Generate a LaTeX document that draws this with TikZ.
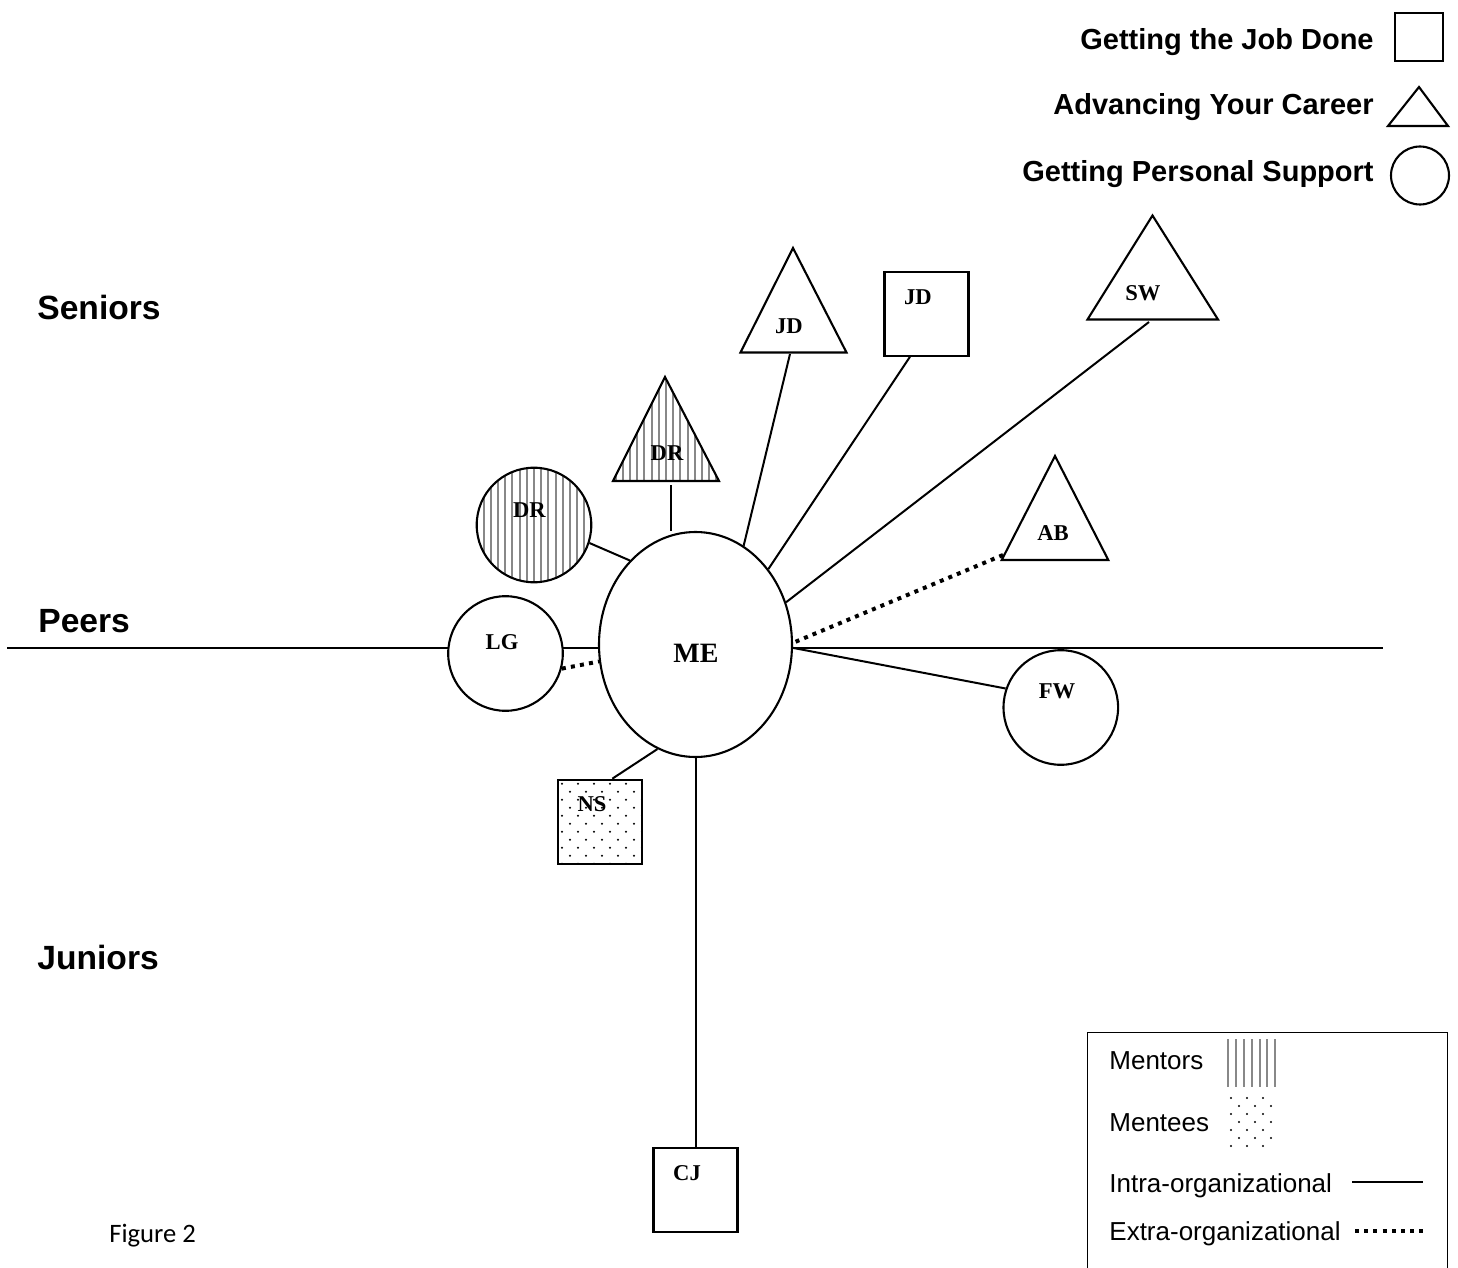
\documentclass[tikz,border=0pt]{standalone}
\usepackage{fontspec}
\setmainfont{Liberation Serif}
\setsansfont{Liberation Sans}
\newfontfamily\figfont{Carlito}
\usetikzlibrary{shapes.geometric}
\definecolor{hatchgray}{HTML}{888888}

\begin{document}
\begin{tikzpicture}[x=0.5pt,y=-0.5pt,
  shp/.style={draw=black,line width=1.05pt,fill=white,inner sep=0pt},
  pcirc/.style={shp,circle,minimum size=57.3pt},
  jbox/.style={shp,rectangle,minimum size=42pt},
  tag/.style={font=\fontsize{11.3}{13}\selectfont\bfseries,inner sep=0pt},
  tie/.style={line width=1pt},
  extra/.style={line width=2pt,dash pattern=on 2pt off 2.6pt},
  hatch/.style={draw=hatchgray,line width=1pt},
  mentor/.style={path picture={
    \foreach \k in {-10,...,10}
      \draw[hatch] ([xshift=\k*3.6pt]path picture bounding box.south)
        -- ([xshift=\k*3.6pt]path picture bounding box.north);}},
  mentee/.style={path picture={
    \foreach \r in {0,...,11}
      \foreach \c in {0,...,6}
        \fill[black] ([xshift={(\c*8+mod(\r,2)*4+2)*1pt},yshift={-(\r*4+2)*1pt}]path picture bounding box.north west)
          circle (0.55pt);}},
  head/.style={font=\sffamily\bfseries\fontsize{16.8}{20}\selectfont,anchor=base west,inner sep=0pt},
  key/.style={font=\sffamily\bfseries\fontsize{14.5}{17}\selectfont,anchor=base east,inner sep=0pt},
  note/.style={font=\sffamily\fontsize{13}{15}\selectfont,anchor=base west,inner sep=0pt}]

  \useasboundingbox (0,0) rectangle (1458,1268);

  % key of the three roles
  \node[key] (kjob) at (1374,50) {Getting the Job Done};
  \node[key] (kcar) at (1374,115) {Advancing Your Career};
  \node[key] (ksup) at (1374,182) {Getting Personal Support};
  \node[shp,rectangle,minimum size=24pt] (kbox) at (1419,37) {};
  \draw[shp] (1419,87) -- (1388,126) -- (1448,126) -- cycle;
  \node[shp,circle,minimum size=29pt] (kcirc) at (1420,175.5) {};

  % levels
  \node[head] (sen) at (37,320) {Seniors};
  \node[head] (peer) at (38,632) {Peers};
  \node[head] (jun) at (37,969) {Juniors};

  % peers axis
  \coordinate (pl) at (7,648);
  \coordinate (pr) at (1383,648);
  \draw[tie] (pl) -- (pr);

  % the network
  \node[shp,ellipse,minimum width=96.5pt,minimum height=112.5pt] (me) at (695.5,644.5) {};
  \node[tag,font=\fontsize{14}{16}\selectfont\bfseries] (meT) at (696,653) {ME};

  \node[pcirc,mentor] (drC) at (534,525) {};
  \node[tag] (drCT) at (529.5,510) {DR};
  \node[pcirc] (lg) at (505.5,653.5) {};
  \node[tag] (lgT) at (502,642) {LG};
  \node[pcirc] (fw) at (1060.8,707.5) {};
  \node[tag] (fwT) at (1057,691) {FW};

  \node[jbox] (jdS) at (926.5,313.7) {};
  \node[tag] (jdST) at (918,297) {JD};
  \node[jbox,mentee] (ns) at (600,821.7) {};
  \node[tag] (nsT) at (592,804) {NS};
  \node[jbox] (cj) at (695.5,1190.3) {};
  \node[tag] (cjT) at (687,1173) {CJ};

  \draw[shp,mentor] (665,377) -- (613,481) -- (719,481) -- cycle;
  \node[tag] (drT) at (667,453) {DR};
  \draw[shp] (793,248) -- (740.5,352.5) -- (846.5,352.5) -- cycle;
  \node[tag] (jdT) at (789,326) {JD};
  \draw[shp] (1152.5,215.5) -- (1087.5,319.5) -- (1218,319.5) -- cycle;
  \node[tag] (swT) at (1143,293) {SW};
  \draw[shp] (1055,456) -- (1001.7,560) -- (1108.3,560) -- cycle;
  \node[tag] (abT) at (1053,533) {AB};

  \coordinate (drT-b) at (671,485);
  \coordinate (jdT-b) at (790,354);
  \coordinate (swT-b) at (1149,322);
  \coordinate (abT-w) at (1003,555);

  % ties to ME
  \draw[tie] (drC.-18) -- (me.128);
  \draw[tie] (drT-b) -- (drT-b |- me.north);
  \draw[tie] (jdT-b) -- (me.64.5);
  \draw[tie] (jdS.-111) -- (me.46);
  \draw[tie] (swT-b) -- (me.25);
  \draw[extra] (abT-w) -- (me.1);
  \draw[tie] (fw.161) -- (me.-2);
  \draw[extra] (lg.-15) -- (me.190);
  \draw[tie] (ns.74) -- (me.250);
  \draw[tie] (cj.north) -- (me.south);

  % key of the ties
  \draw[line width=0.85pt] (1087.5,1268) -- (1087.5,1032.5) -- (1447.5,1032.5) -- (1447.5,1268);
  \node[note] (kment) at (1109,1069) {Mentors};
  \foreach \k in {0,...,6}
    \draw[hatch] (1228.3+7.83*\k,1039) -- (1228.3+7.83*\k,1087);
  \node[note] (kmtee) at (1109,1131) {Mentees};
  \foreach \r in {0,...,6}
    \foreach \c in {0,1,2}
      \fill ({1231+16*\c+8*mod(\r,2)},{1098+8*\r}) circle (0.55pt);
  \node[note] (kintra) at (1109,1192) {Intra-organizational};
  \draw[tie] (1352,1182) -- (1423,1182);
  \node[note] (kextra) at (1109,1240) {Extra-organizational};
  \draw[extra] (1355,1231) -- (1424,1231);

  \node[font=\figfont\fontsize{13.3}{16}\selectfont,anchor=base west,inner sep=0pt] (fig) at (109,1242) {Figure 2};
\end{tikzpicture}
\end{document}
